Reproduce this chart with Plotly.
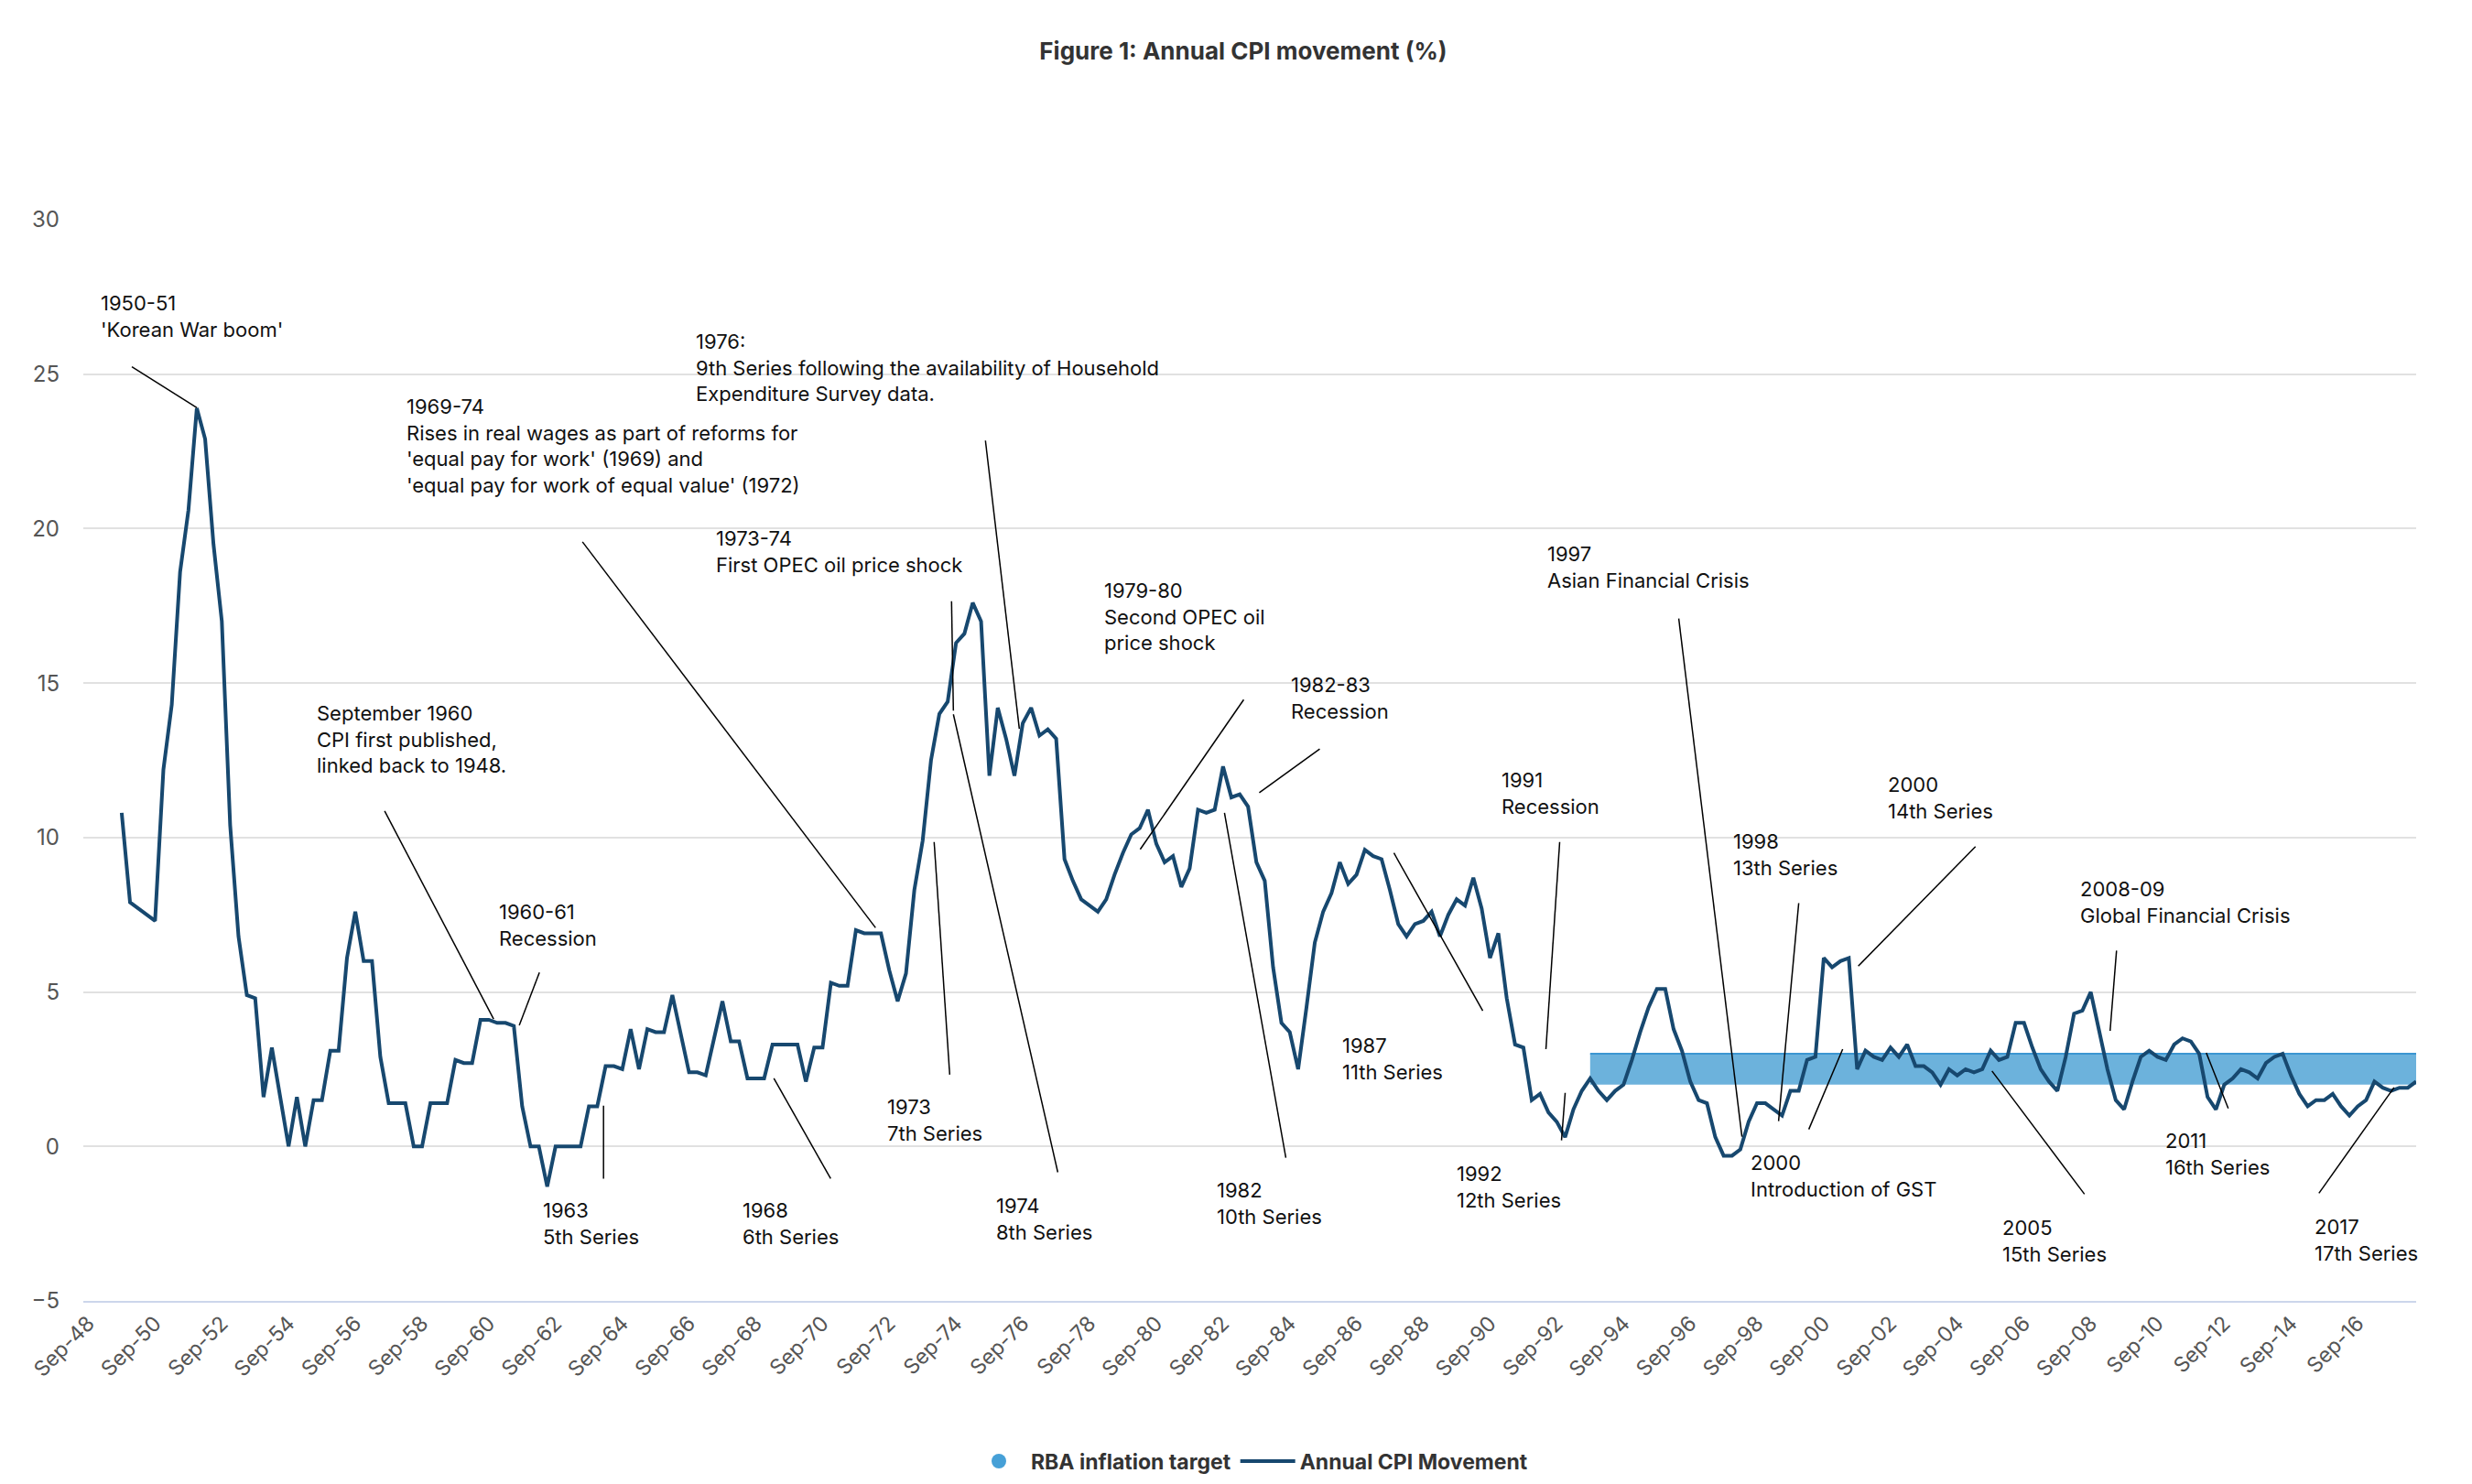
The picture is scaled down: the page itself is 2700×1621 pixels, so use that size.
import plotly.graph_objects as go

# quarterly annual CPI movement (%), Sep-48 .. Jun-18
cpi_1948_64 = [None, None, None, None, 10.8, 7.9, 7.7, 7.5, 7.3, 12.2, 14.3, 18.6, 20.6, 23.9, 22.9, 19.5,
               17.0, 10.4, 6.8, 4.9, 4.8, 1.6, 3.2, 1.6, 0.0, 1.6, 0.0, 1.5, 1.5, 3.1, 3.1, 6.1,
               7.6, 6.0, 6.0, 2.9, 1.4, 1.4, 1.4, 0.0, 0.0, 1.4, 1.4, 1.4, 2.8, 2.7, 2.7, 4.1,
               4.1, 4.0, 4.0, 3.9, 1.3, 0.0, 0.0, -1.3, 0.0, 0.0, 0.0, 0.0, 1.3, 1.3, 2.6, 2.6]
cpi_1964_82 = [2.5, 3.8, 2.5, 3.8, 3.7, 3.7, 4.9, 3.6, 2.4, 2.4, 2.3, 3.5, 4.7, 3.4, 3.4, 2.2,
               2.2, 2.2, 3.3, 3.3, 3.3, 3.3, 2.1, 3.2, 3.2, 5.3, 5.2, 5.2, 7.0, 6.9, 6.9, 6.9,
               5.7, 4.7, 5.6, 8.3, 9.9, 12.5, 14.0, 14.4, 16.3, 16.6, 17.6, 17.0, 12.0, 14.2, 13.2, 12.0,
               13.7, 14.2, 13.3, 13.5, 13.2, 9.3, 8.6, 8.0, 7.8, 7.6, 8.0, 8.8, 9.5, 10.1, 10.3, 10.9,
               9.8, 9.2, 9.4, 8.4, 9.0, 10.9, 10.8, 10.9, 12.3]
cpi_1983_00 = [11.3, 11.4, 11.0, 9.2, 8.6, 5.8, 4.0, 3.7, 2.5, 4.5, 6.6, 7.6, 8.2, 9.2, 8.5, 8.8,
               9.6, 9.4, 9.3, 8.3, 7.2, 6.8, 7.2, 7.3, 7.6, 6.8, 7.5, 8.0, 7.8, 8.7, 7.7, 6.1,
               6.9, 4.8, 3.3, 3.2, 1.5, 1.7, 1.1, 0.8, 0.3, 1.2, 1.8, 2.2, 1.8, 1.5, 1.8, 2.0,
               2.8, 3.7, 4.5, 5.1, 5.1, 3.8, 3.1, 2.1, 1.5, 1.4, 0.3, -0.3, -0.3, -0.1, 0.8, 1.4,
               1.4, 1.2, 1.0, 1.8, 1.8, 2.8]
cpi_2000_18 = [2.9, 6.1, 5.8, 6.0, 6.1, 2.5, 3.1, 2.9, 2.8, 3.2, 2.9, 3.3, 2.6, 2.6, 2.4, 2.0,
               2.5, 2.3, 2.5, 2.4, 2.5, 3.1, 2.8, 2.9, 4.0, 4.0, 3.2, 2.5, 2.1, 1.8, 2.9, 4.3,
               4.4, 5.0, 3.7, 2.5, 1.5, 1.2, 2.1, 2.9, 3.1, 2.9, 2.8, 3.3, 3.5, 3.4, 3.0, 1.6,
               1.2, 2.0, 2.2, 2.5, 2.4, 2.2, 2.7, 2.9, 3.0, 2.3, 1.7, 1.3, 1.5, 1.5, 1.7, 1.3,
               1.0, 1.3, 1.5, 2.1, 1.9, 1.8, 1.9, 1.9, 2.1]
cpi = cpi_1948_64 + cpi_1964_82 + cpi_1983_00 + cpi_2000_18

months = ["Sep", "Dec", "Mar", "Jun"]
quarters = []
for i in range(len(cpi)):
    yr = 1948 + (i + 2) // 4
    quarters.append(f"{months[i % 4]}-{yr % 100:02d}")

target_start = "Sep-93"
target_low, target_high = 2, 3
band_x = quarters[quarters.index(target_start):]

fig = go.Figure()
fig.add_trace(go.Scatter(x=band_x, y=[target_low] * len(band_x), mode="lines",
                         line=dict(width=0), showlegend=False, hoverinfo="skip"))
fig.add_trace(go.Scatter(x=band_x, y=[target_high] * len(band_x), mode="lines", fill="tonexty",
                         fillcolor="rgb(108,178,220)", line=dict(color="rgb(60,150,210)", width=2),
                         showlegend=False))
fig.add_trace(go.Scatter(x=[None], y=[None], mode="markers", name="RBA inflation target",
                         marker=dict(symbol="circle", size=26, color="rgb(70,160,215)")))
fig.add_trace(go.Scatter(x=quarters, y=cpi, mode="lines", name="Annual CPI Movement",
                         line=dict(color="#17486f", width=4)))


# annotations are placed from pixel positions of the reference
def px(x):
    return (x - 83) / 9.11 - 0.6


def py(y):
    return (1247.7 - y) / 33.86


notes = [
    ("1950-51<br>'Korean War boom'", 100, 308, (136, 393, 207, 438)),
    ("1969-74<br>Rises in real wages as part of reforms for<br>'equal pay for work' (1969) and<br>"
     "'equal pay for work of equal value' (1972)", 434, 422, (628, 585, 948, 1008)),
    ("1976:<br>9th Series following the availability of Household<br>Expenditure Survey data.", 750, 350,
     (1068, 474, 1105, 790)),
    ("September 1960<br>CPI first published,<br>linked back to 1948.", 336, 758, (412, 880, 531, 1108)),
    ("1960-61<br>Recession", 535, 975, (581, 1057, 559, 1115)),
    ("1973-74<br>First OPEC oil price shock", 772, 566, (1031, 650, 1033, 770)),
    ("1973<br>7th Series", 959, 1189, (1029, 1169, 1012, 914)),
    ("1974<br>8th Series", 1078, 1298, (1147, 1276, 1033, 774)),
    ("1979-80<br>Second OPEC oil<br>price shock", 1196, 623, (1350, 758, 1237, 922)),
    ("1982-83<br>Recession", 1400, 727, (1433, 812, 1367, 860)),
    ("1982<br>10th Series", 1319, 1281, (1396, 1260, 1329, 882)),
    ("1987<br>11th Series", 1456, 1122, (1611, 1099, 1514, 926)),
    ("1991<br>Recession", 1629, 831, (1695, 914, 1680, 1141)),
    ("1992<br>12th Series", 1580, 1262, (1697, 1241, 1701, 1189)),
    ("1997<br>Asian Financial Crisis", 1679, 583, (1825, 669, 1894, 1237)),
    ("1998<br>13th Series", 1882, 898, (1956, 981, 1934, 1220)),
    ("2000<br>Introduction of GST", 1901, 1250, (1967, 1229, 2004, 1141)),
    ("2000<br>14th Series", 2051, 836, (2149, 919, 2021, 1050)),
    ("2008-09<br>Global Financial Crisis", 2261, 950, (2303, 1033, 2296, 1121)),
    ("2005<br>15th Series", 2176, 1322, (2268, 1300, 2167, 1165)),
    ("2011<br>16th Series", 2354, 1226, (2425, 1206, 2401, 1145)),
    ("2017<br>17th Series", 2517, 1321, (2524, 1299, 2606, 1183)),
    ("1963<br>5th Series", 583, 1303, (651, 1283, 651, 1203)),
    ("1968<br>6th Series", 801, 1303, (899, 1283, 837, 1173)),
]

for text, tx, ty, (x0, y0, x1, y1) in notes:
    fig.add_annotation(x=px(tx), y=py(ty), text=text, showarrow=False, xanchor="left", yanchor="top",
                       align="left", font=dict(size=22, color="#111"))
    fig.add_shape(type="line", x0=px(x0), y0=py(y0), x1=px(x1), y1=py(y1),
                  line=dict(color="black", width=1.5))

fig.update_layout(
    width=2700, height=1621,
    margin=dict(l=83, r=69, t=232, b=204),
    plot_bgcolor="white", paper_bgcolor="white",
    font=dict(family="Inter, Liberation Sans, sans-serif", size=22, color="#333"),
    title=dict(text="<b>Figure 1: Annual CPI movement (%)</b>", x=0.5, y=0.976, xanchor="center",
               font=dict(size=26, color="#333")),
    legend=dict(orientation="h", x=0.5, xanchor="center", y=-0.13, yanchor="top", traceorder="normal",
                font=dict(size=23, color="#333", weight="bold"), itemwidth=60),
    showlegend=True,
)
fig.update_xaxes(type="category", categoryorder="array", categoryarray=quarters,
                 range=[-0.6, len(cpi) - 1], tickangle=-45,
                 tickvals=quarters[::8], ticktext=quarters[::8], showgrid=False,
                 showline=True, linecolor="rgb(204,214,235)", linewidth=2,
                 tickfont=dict(size=23, color="#555"))
fig.update_yaxes(range=[-5, 30], dtick=5, showgrid=True, gridcolor="rgb(225,225,225)", gridwidth=1.5,
                 zeroline=False, tickfont=dict(size=24, color="#555"), ticklabelstandoff=25)

fig.write_html("out.html")
